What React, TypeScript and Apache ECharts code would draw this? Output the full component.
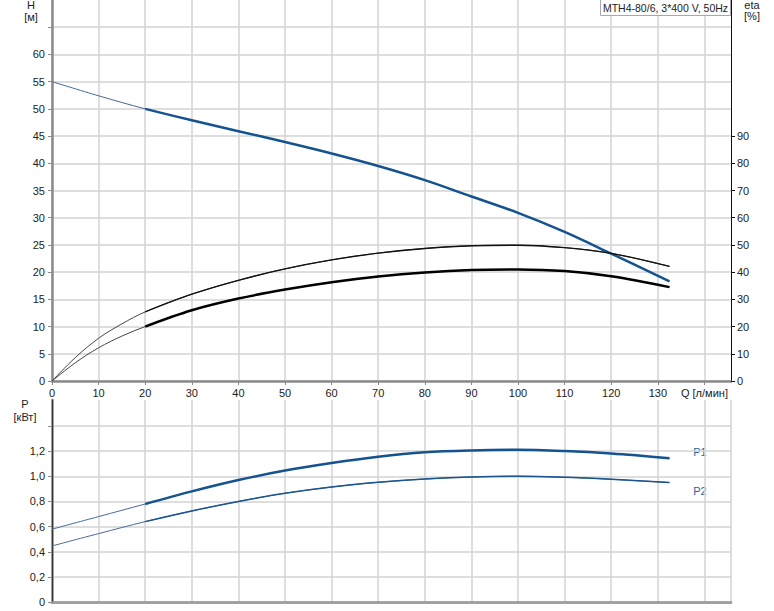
import React, { useEffect, useRef } from "react";
import * as echarts from "echarts";

const FONT = "'Liberation Sans', Arial, sans-serif";

// H [m] vs Q [l/min]
const hAll: [number, number][] = [[0, 55], [10, 52.4], [20, 50.0], [30, 47.9], [40, 45.9], [50, 43.9], [60, 41.8], [70, 39.5], [80, 36.9], [90, 33.9], [100, 30.9], [110, 27.4], [120, 23.4], [132.5, 18.3]];
// eta [%]
const etaUpperAll: [number, number][] = [[0, 0], [5, 8.6], [10, 15.7], [15, 21.0], [20, 25.4], [30, 31.9], [40, 37.0], [50, 41.2], [60, 44.5], [70, 47.0], [80, 48.7], [90, 49.7], [100, 49.9], [110, 49.0], [120, 46.9], [132.5, 42.1]];
const etaLowerAll: [number, number][] = [[0, 0], [5, 6.7], [10, 12.2], [15, 16.5], [20, 20.0], [30, 26.0], [40, 30.3], [50, 33.6], [60, 36.3], [70, 38.4], [80, 39.9], [90, 40.8], [100, 41.0], [110, 40.4], [120, 38.5], [132.5, 34.5]];
// P [kW]
const p1All: [number, number][] = [[0, 0.58], [10, 0.68], [20, 0.78], [30, 0.88], [40, 0.97], [50, 1.045], [60, 1.105], [70, 1.155], [80, 1.19], [90, 1.205], [100, 1.21], [110, 1.2], [120, 1.18], [132.5, 1.143]];
const p2All: [number, number][] = [[0, 0.447], [10, 0.545], [20, 0.64], [30, 0.725], [40, 0.8], [50, 0.865], [60, 0.915], [70, 0.952], [80, 0.978], [90, 0.994], [100, 1.0], [110, 0.992], [120, 0.976], [132.5, 0.95]];

const thickFrom = 20;

const qTicks = [0, 10, 20, 30, 40, 50, 60, 70, 80, 90, 100, 110, 120, 130, 140];
const hLabels = [0, 5, 10, 15, 20, 25, 30, 35, 40, 45, 50, 55, 60];
const hTicks = [0, 5, 10, 15, 20, 25, 30, 35, 40, 45, 50, 55, 60, 65];
const etaLabels = [0, 10, 20, 30, 40, 50, 60, 70, 80, 90];
const pLabels = [0, 0.2, 0.4, 0.6, 0.8, 1.0, 1.2];
const pTicks = [0, 0.2, 0.4, 0.6, 0.8, 1.0, 1.2, 1.4];

const title = "MTH4-80/6, 3*400 V, 50Hz";

const gridLine = { show: true, lineStyle: { color: "#d3d3d3", width: 1.5 } };
const labelStyle = { color: "#222", fontSize: 11, fontFamily: FONT };

export default function App() {
  const ref = useRef<HTMLDivElement>(null);
  useEffect(() => {
    if (!ref.current) return;
    const chart = echarts.init(ref.current, null, { renderer: "svg" });
    const line = (name: string, data: [number, number][], xi: number, yi: number, color: string, width: number, z = 5) => ({
      name,
      type: "line",
      xAxisIndex: xi,
      yAxisIndex: yi,
      data,
      smooth: 0.35,
      showSymbol: false,
      symbol: "none",
      lineStyle: { color, width },
      z,
    });
    const thick = (d: [number, number][]) => d.filter((p) => p[0] >= thickFrom);
    chart.setOption({
      animation: false,
      backgroundColor: "#fff",
      grid: [
        { left: 52, right: 43, top: 0, height: 381 },
        { left: 52, right: 43, top: 400, height: 202.3 },
      ],
      xAxis: [
        {
          gridIndex: 0, type: "value", min: 0, max: 145.7, interval: 10,
          axisLine: { lineStyle: { color: "#8a8a8a", width: 2.5 } },
          axisTick: { show: true, length: 4, lineStyle: { color: "#8a8a8a" }, customValues: qTicks },
          axisLabel: { ...labelStyle, margin: 6, customValues: qTicks, formatter: (v: number) => (v === 140 ? "Q [л/мин]" : String(v)) },
          splitLine: gridLine,
        },
        {
          gridIndex: 1, type: "value", min: 0, max: 145.7, interval: 10,
          axisLine: { lineStyle: { color: "#8a8a8a", width: 2.5 } },
          axisTick: { show: false },
          axisLabel: { show: false },
          splitLine: gridLine,
        },
        {
          gridIndex: 1, type: "value", min: 0, max: 145.7, position: "top",
          axisLine: { show: true, lineStyle: { color: "#a0a0a0", width: 2 } },
          axisTick: { show: false },
          axisLabel: { show: false },
          splitLine: { show: false },
        },
      ],
      yAxis: [
        {
          gridIndex: 0, type: "value", min: 0, max: 70, interval: 5,
          axisLine: { show: true, lineStyle: { color: "#8a8a8a", width: 2.5 } },
          axisTick: { show: true, length: 4, lineStyle: { color: "#8a8a8a" }, customValues: hTicks },
          axisLabel: { ...labelStyle, margin: 7, customValues: hLabels },
          splitLine: gridLine,
        },
        {
          gridIndex: 0, type: "value", min: 0, max: 140, interval: 10, position: "right",
          axisLine: { show: true, lineStyle: { color: "#111", width: 1 } },
          axisTick: { show: true, length: 4, lineStyle: { color: "#111" }, customValues: etaLabels },
          axisLabel: { ...labelStyle, margin: 6, customValues: etaLabels },
          splitLine: { show: false },
        },
        {
          gridIndex: 1, type: "value", min: 0, max: 1.605, interval: 0.2,
          axisLine: { show: true, lineStyle: { color: "#8a8a8a", width: 2.5 } },
          axisTick: { show: true, length: 4, lineStyle: { color: "#8a8a8a" }, customValues: pTicks },
          axisLabel: { ...labelStyle, margin: 7, customValues: pLabels, formatter: (v: number) => (v === 0 ? "0" : v.toFixed(1).replace(".", ",")) },
          splitLine: gridLine,
        },
        {
          gridIndex: 1, type: "value", min: 0, max: 1.605, position: "right",
          axisLine: { show: true, lineStyle: { color: "#333", width: 1 } },
          axisTick: { show: false },
          axisLabel: { show: false },
          splitLine: { show: false },
        },
      ],
      series: [
        line("H thin", hAll, 0, 0, "#4a6894", 1, 4),
        line("H", thick(hAll), 0, 0, "#14538f", 2.5),
        line("eta1 thin", etaUpperAll, 0, 1, "#444", 1, 4),
        line("eta1", thick(etaUpperAll), 0, 1, "#111", 1.4),
        line("eta2 thin", etaLowerAll, 0, 1, "#444", 1, 4),
        line("eta2", thick(etaLowerAll), 0, 1, "#000", 2.5),
        line("P1 thin", p1All, 1, 2, "#4a6894", 1, 4),
        line("P1", thick(p1All), 1, 2, "#14538f", 2.5),
        line("P2 thin", p2All, 1, 2, "#4a6894", 1, 4),
        line("P2", thick(p2All), 1, 2, "#1a5592", 1.5),
      ],
      graphic: [
        { type: "text", x: 31, y: 5, style: { text: "H", fill: "#222", font: `11px ${FONT}`, textAlign: "center", textVerticalAlign: "middle" } },
        { type: "text", x: 31, y: 17, style: { text: "[м]", fill: "#222", font: `11px ${FONT}`, textAlign: "center", textVerticalAlign: "middle" } },
        { type: "text", x: 752, y: 5, style: { text: "eta", fill: "#222", font: `11px ${FONT}`, textAlign: "center", textVerticalAlign: "middle" } },
        { type: "text", x: 752, y: 16, style: { text: "[%]", fill: "#222", font: `11px ${FONT}`, textAlign: "center", textVerticalAlign: "middle" } },
        { type: "text", x: 25, y: 404, style: { text: "P", fill: "#222", font: `11px ${FONT}`, textAlign: "center", textVerticalAlign: "middle" } },
        { type: "text", x: 25, y: 417, style: { text: "[кВт]", fill: "#222", font: `11px ${FONT}`, textAlign: "center", textVerticalAlign: "middle" } },
        { type: "text", x: 700, y: 452, style: { text: "P1", fill: "#2563a3", font: `11px ${FONT}`, textAlign: "center", textVerticalAlign: "middle" } },
        { type: "text", x: 700, y: 491, style: { text: "P2", fill: "#2563a3", font: `11px ${FONT}`, textAlign: "center", textVerticalAlign: "middle" } },
        { type: "rect", shape: { x: 600.5, y: -1, width: 130, height: 16.5 }, style: { fill: "#fff", stroke: "#a8a8a8", lineWidth: 1 }, z: 100 },
        { type: "text", x: 665.5, y: 7.5, style: { text: title, fill: "#222", font: `10.5px ${FONT}`, textAlign: "center", textVerticalAlign: "middle" }, z: 101 },
      ],
    });
    return () => chart.dispose();
  }, []);
  return <div ref={ref} style={{ width: 774, height: 611, position: "absolute", left: 0, top: 0 }} />;
}
